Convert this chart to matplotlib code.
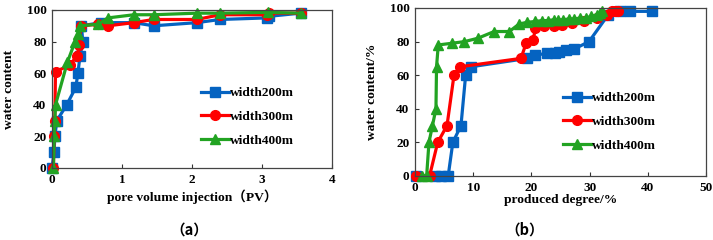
import matplotlib
matplotlib.use("Agg")
import matplotlib.pyplot as plt

plt.rcParams['font.family'] = ['Liberation Serif', 'DejaVu Serif']
plt.rcParams['font.weight'] = 'bold'

# ---- panel (a): water content vs pore volume injection ----
a200_x = [0, 0.03, 0.04, 0.07, 0.21, 0.34, 0.37, 0.40, 0.44, 0.42, 0.70, 1.17, 1.45, 2.07, 2.40, 3.07, 3.10, 3.55]
a200_y = [0, 10, 20, 30, 40, 51, 60, 71, 80, 90, 92, 92, 90, 92, 94, 95, 96, 98]
a300_x = [0.02, 0.03, 0.04, 0.05, 0.25, 0.36, 0.39, 0.41, 0.66, 0.80, 1.17, 1.45, 2.07, 2.40, 3.07, 3.10, 3.55]
a300_y = [0, 20, 30, 61, 65, 71, 78, 90, 91, 90, 92, 94, 94, 97, 97, 98, 98]
a400_x = [0.02, 0.03, 0.04, 0.05, 0.22, 0.33, 0.37, 0.40, 0.66, 0.80, 1.17, 1.45, 2.07, 2.40, 3.08, 3.55]
a400_y = [0, 20, 30, 40, 67, 80, 85, 90, 91, 95, 97, 97, 98, 98, 98.5, 98]

# ---- panel (b): water content vs produced degree ----
b200_x = [0.2, 3.4, 4.5, 5.7, 6.5, 7.9, 8.7, 9.6, 19.3, 20.7, 22.7, 24.1, 24.7, 25.9, 27.3, 29.9, 33.2, 35.2, 36.9, 40.8]
b200_y = [0, 0, 0, 0, 20, 30, 60, 65, 70, 72, 73, 73.5, 74, 75, 75.5, 80, 96, 98, 98, 98]
b300_x = [0.2, 2.5, 3.9, 5.5, 6.7, 7.7, 18.2, 19.1, 20.3, 20.7, 22.2, 23.9, 25.3, 27.0, 29.0, 31.2, 33.0, 33.8, 34.4, 34.8]
b300_y = [0, 0, 20, 30, 60, 65, 70, 79, 81, 88, 89, 89.5, 90, 91, 92, 94, 96, 98, 98.5, 98]
b400_x = [1.2, 2.0, 2.4, 3.0, 3.6, 3.7, 4.0, 6.3, 8.5, 10.8, 13.6, 16.2, 17.9, 19.3, 20.7, 21.8, 22.8, 23.8, 24.6, 25.5,
          26.4, 27.4, 28.3, 29.3, 30.3, 31.2, 31.8, 32.2]
b400_y = [0, 0, 20, 30, 40, 65, 78, 79, 80, 82, 86, 86, 90.5, 91.5, 92, 92.5, 92.5, 93, 93, 93,
          93.5, 93.5, 94, 94, 95, 96, 97, 98]

labels = ['width200m', 'width300m', 'width400m']
colors = ['#0563C1', '#FF0000', '#22A322']
markers = ['s', 'o', '^']
msizes = [7, 7, 7]

fig = plt.figure(figsize=(7.13, 2.4), dpi=100)
axa = fig.add_axes([52/713, 1-168/240, (332-52)/713, (168-10)/240])
axb = fig.add_axes([415/713, 1-176/240, (706-415)/713, (176-8)/240])

for ax, series in ((axa, [(a200_x, a200_y), (a300_x, a300_y), (a400_x, a400_y)]),
                   (axb, [(b200_x, b200_y), (b300_x, b300_y), (b400_x, b400_y)])):
    for (xs, ys), lab, c, m, ms in zip(series, labels, colors, markers, msizes):
        ax.plot(xs, ys, color=c, marker=m, markersize=ms, lw=2.3, label=lab, clip_on=False)
    ax.tick_params(direction='in', labelsize=9.5, length=3, width=0.8, colors='#333333', labelcolor='black', pad=4)
    for lab in ax.get_xticklabels() + ax.get_yticklabels():
        lab.set_fontweight('bold')
    for s in ax.spines.values():
        s.set_color('#444444')
        s.set_linewidth(0.9)
    ax.set_ylim(0, 100)
    ax.set_yticks([0, 20, 40, 60, 80, 100])

axa.set_xlim(0, 4)
axa.set_xticks([0, 1, 2, 3, 4])
axb.set_xlim(0, 50)
axb.set_xticks([0, 10, 20, 30, 40, 50])

lab_fs = 9.7
axa.set_xlabel('pore volume injection（PV）', fontsize=lab_fs, fontweight='bold',
               family=['Liberation Serif', 'Noto Sans CJK SC'], labelpad=3)
axa.set_ylabel('water content', fontsize=lab_fs, fontweight='bold', labelpad=8)
axb.set_xlabel('produced degree/%', fontsize=lab_fs, fontweight='bold', labelpad=0)
axb.set_ylabel('water content/%', fontsize=lab_fs, fontweight='bold', labelpad=8)

leg_kw = dict(frameon=False, handlelength=2.1, handletextpad=0.1, labelspacing=0.85,
              prop={'weight': 'bold', 'size': 9.6})
axa.legend(loc='upper left', bbox_to_anchor=((189-52)/280, 1-(75-10)/158), **leg_kw)
axb.legend(loc='upper left', bbox_to_anchor=((551-415)/291, 1-(80-8)/168), **leg_kw)

fig.text(189/713, 1-230/240, '（a）', ha='center', va='center', fontsize=10.5, fontweight='bold',
         family=['Noto Sans CJK SC', 'Liberation Serif'])
fig.text(525/713, 1-230/240, '（b）', ha='center', va='center', fontsize=10.5, fontweight='bold',
         family=['Noto Sans CJK SC', 'Liberation Serif'])

fig.savefig('out.png', dpi=100)
